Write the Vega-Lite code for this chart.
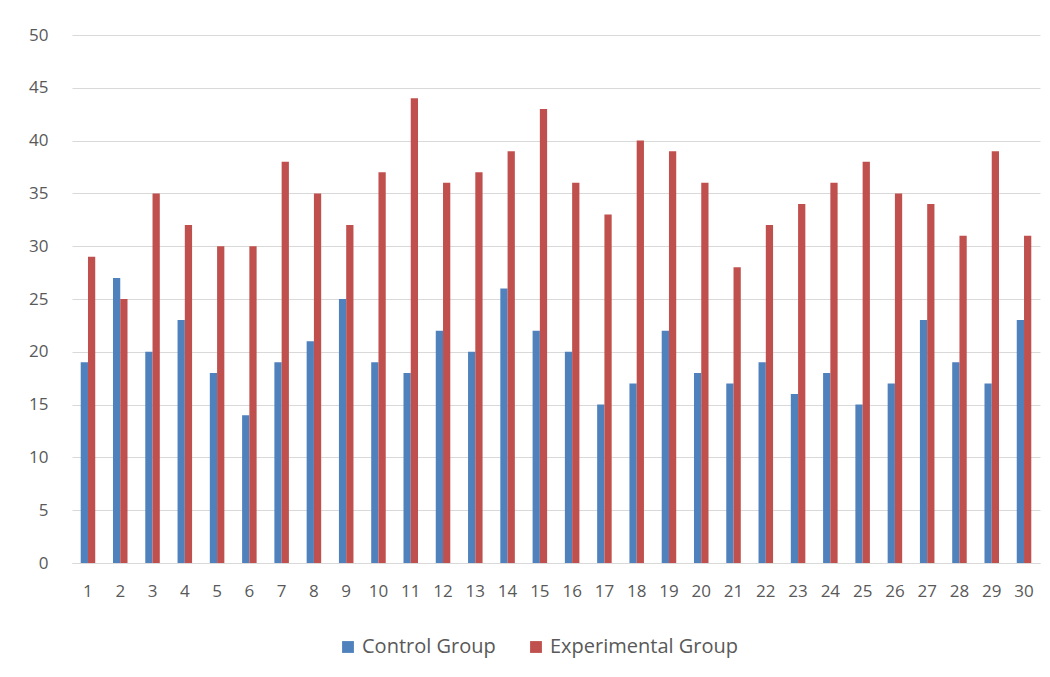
{
  "$schema": "https://vega.github.io/schema/vega-lite/v6.json",
  "autosize": {"type": "none"},
  "padding": {"left": 72, "top": 35, "right": 10, "bottom": 114},
  "width": 968,
  "height": 528,
  "background": "white",
  "data": {
    "values": [
      {"n": 1, "g": "Control Group", "v": 19}, {"n": 1, "g": "Experimental Group", "v": 29},
      {"n": 2, "g": "Control Group", "v": 27}, {"n": 2, "g": "Experimental Group", "v": 25},
      {"n": 3, "g": "Control Group", "v": 20}, {"n": 3, "g": "Experimental Group", "v": 35},
      {"n": 4, "g": "Control Group", "v": 23}, {"n": 4, "g": "Experimental Group", "v": 32},
      {"n": 5, "g": "Control Group", "v": 18}, {"n": 5, "g": "Experimental Group", "v": 30},
      {"n": 6, "g": "Control Group", "v": 14}, {"n": 6, "g": "Experimental Group", "v": 30},
      {"n": 7, "g": "Control Group", "v": 19}, {"n": 7, "g": "Experimental Group", "v": 38},
      {"n": 8, "g": "Control Group", "v": 21}, {"n": 8, "g": "Experimental Group", "v": 35},
      {"n": 9, "g": "Control Group", "v": 25}, {"n": 9, "g": "Experimental Group", "v": 32},
      {"n": 10, "g": "Control Group", "v": 19}, {"n": 10, "g": "Experimental Group", "v": 37},
      {"n": 11, "g": "Control Group", "v": 18}, {"n": 11, "g": "Experimental Group", "v": 44},
      {"n": 12, "g": "Control Group", "v": 22}, {"n": 12, "g": "Experimental Group", "v": 36},
      {"n": 13, "g": "Control Group", "v": 20}, {"n": 13, "g": "Experimental Group", "v": 37},
      {"n": 14, "g": "Control Group", "v": 26}, {"n": 14, "g": "Experimental Group", "v": 39},
      {"n": 15, "g": "Control Group", "v": 22}, {"n": 15, "g": "Experimental Group", "v": 43},
      {"n": 16, "g": "Control Group", "v": 20}, {"n": 16, "g": "Experimental Group", "v": 36},
      {"n": 17, "g": "Control Group", "v": 15}, {"n": 17, "g": "Experimental Group", "v": 33},
      {"n": 18, "g": "Control Group", "v": 17}, {"n": 18, "g": "Experimental Group", "v": 40},
      {"n": 19, "g": "Control Group", "v": 22}, {"n": 19, "g": "Experimental Group", "v": 39},
      {"n": 20, "g": "Control Group", "v": 18}, {"n": 20, "g": "Experimental Group", "v": 36},
      {"n": 21, "g": "Control Group", "v": 17}, {"n": 21, "g": "Experimental Group", "v": 28},
      {"n": 22, "g": "Control Group", "v": 19}, {"n": 22, "g": "Experimental Group", "v": 32},
      {"n": 23, "g": "Control Group", "v": 16}, {"n": 23, "g": "Experimental Group", "v": 34},
      {"n": 24, "g": "Control Group", "v": 18}, {"n": 24, "g": "Experimental Group", "v": 36},
      {"n": 25, "g": "Control Group", "v": 15}, {"n": 25, "g": "Experimental Group", "v": 38},
      {"n": 26, "g": "Control Group", "v": 17}, {"n": 26, "g": "Experimental Group", "v": 35},
      {"n": 27, "g": "Control Group", "v": 23}, {"n": 27, "g": "Experimental Group", "v": 34},
      {"n": 28, "g": "Control Group", "v": 19}, {"n": 28, "g": "Experimental Group", "v": 31},
      {"n": 29, "g": "Control Group", "v": 17}, {"n": 29, "g": "Experimental Group", "v": 39},
      {"n": 30, "g": "Control Group", "v": 23}, {"n": 30, "g": "Experimental Group", "v": 31}
    ]
  },
  "mark": {"type": "bar"},
  "encoding": {
    "x": {
      "field": "n", "type": "ordinal", "title": null,
      "scale": {"paddingInner": 0.55, "paddingOuter": 0.27},
      "axis": {"labelAngle": 0, "ticks": false, "labelPadding": 20, "labelFontSize": 17, "labelColor": "#595959", "labelFont": "Open Sans", "domainColor": "#d9d9d9", "grid": false}
    },
    "xOffset": {"field": "g", "type": "nominal", "scale": {"paddingInner": 0, "paddingOuter": 0}},
    "y": {
      "field": "v", "type": "quantitative", "title": null,
      "scale": {"domain": [0, 50]},
      "axis": {"values": [0, 5, 10, 15, 20, 25, 30, 35, 40, 45, 50], "ticks": false, "domain": false, "labelPadding": 24, "labelFontSize": 17, "labelColor": "#595959", "labelFont": "Open Sans", "gridColor": "#d9d9d9"}
    },
    "color": {
      "field": "g", "type": "nominal", "title": null,
      "scale": {"domain": ["Control Group", "Experimental Group"], "range": ["#4f81bd", "#c0504d"]},
      "legend": {"orient": "none", "legendX": 266, "legendY": 602, "direction": "horizontal", "symbolType": "square", "symbolSize": 140, "labelFontSize": 20, "labelLimit": 0, "labelColor": "#595959", "labelFont": "Open Sans", "columnPadding": 30}
    }
  },
  "config": {"view": {"stroke": null}}
}
